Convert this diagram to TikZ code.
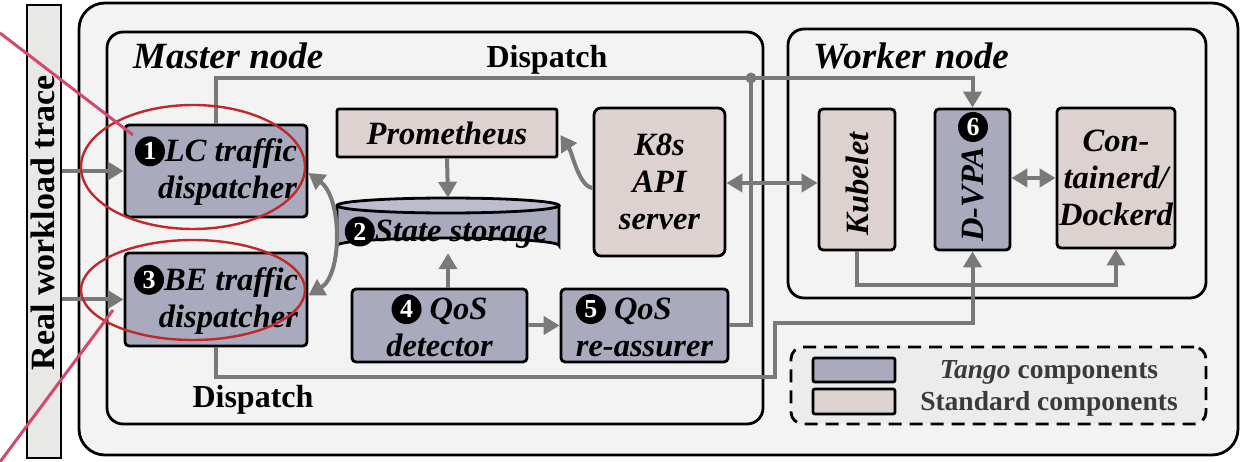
\documentclass[tikz,border=0pt]{standalone}
\usepackage{fontspec}
\setmainfont{Liberation Serif}
\usetikzlibrary{arrows.meta}

\definecolor{tangofill}{HTML}{A9AABE}
\definecolor{stdfill}{HTML}{DDD2CF}
\definecolor{lnk}{HTML}{7B7878}
\definecolor{panel}{HTML}{F3F3F3}
\definecolor{barfill}{HTML}{E8E8E6}
\definecolor{legfill}{HTML}{ECECEC}
\definecolor{ringred}{HTML}{C0282A}
\definecolor{pointer}{HTML}{D24A6B}
\definecolor{legtext}{HTML}{3A3A3A}
\definecolor{captop}{HTML}{BCBDCE}

\tikzset{
  badgestyle/.style={circle, fill=black, draw=none, text=white, inner sep=0pt,
    minimum size=30pt, font=\fontsize{26}{26}\selectfont\bfseries\upshape}
}
% black numbered disc used inline in component labels
\newcommand\badge[2]{\tikz[baseline={([yshift=-10.5pt]#2.center)}]\node[badgestyle] (#2) {#1};}
\newcommand\boxfont{\fontsize{32.5}{37}\selectfont\bfseries\itshape}

\begin{document}
\begin{tikzpicture}[x=1pt, y=-1pt,
  container/.style={draw=black, line width=2.8pt, fill=panel},
  conn/.style={draw=lnk, line width=4pt},
  arr/.style={-{Triangle[length=16pt,width=18pt]}},
  arrboth/.style={{Triangle[length=16pt,width=18pt]}-{Triangle[length=16pt,width=18pt]}},
  box/.style={draw=black, line width=2.8pt, rounded corners=4pt, inner sep=0pt,
    font=\boxfont, align=center},
  tango/.style={box, fill=tangofill},
  stdc/.style={box, fill=stdfill},
  title/.style={font=\fontsize{37}{42}\selectfont\bfseries\itshape, inner sep=0pt},
  tag/.style={font=\fontsize{32}{36}\selectfont\bfseries, inner sep=0pt},
  vtext/.style={rotate=90, font=\boxfont, inner sep=0pt},
  legtxt/.style={font=\fontsize{27.5}{32}\selectfont\bfseries, text=legtext, inner sep=0pt},
  ring/.style={draw=ringred, line width=2.4pt},
  pointerline/.style={draw=pointer, line width=3pt}
]
\useasboundingbox (0,0) rectangle (1256,462);
\fill[white] (0,0) rectangle (1256,462);

% cluster panel and the trace bar
\draw[container, rounded corners=26pt] (79,3) rectangle (1238,455);
\node[draw=black, line width=2.8pt, fill=barfill, minimum width=34pt,
  minimum height=453pt, inner sep=0pt] (bar) at (44,231.5) {};
\node[rotate=90, font=\fontsize{34}{38}\selectfont\bfseries, inner sep=0pt]
  (bartext) at (43,223) {Real workload trace};

% node panels
\draw[container, rounded corners=16pt] (107,32) rectangle (763,424);
\draw[container, rounded corners=16pt] (788,29) rectangle (1206,298);
\node[title, anchor=base west] (mtitle) at (133,69) {Master node};
\node[title, anchor=base west] (wtitle) at (813,69) {Worker node};
\node[tag, anchor=base] (disptop) at (547,68) {Dispatch};
\node[tag, anchor=base] (dispbot) at (253,407) {Dispatch};

% master components
\node[tango, minimum width=182pt, minimum height=92pt, align=right] (lc) at (216,171)
  {\badge{1}{n1}LC traffic\\dispatcher};
\node[tango, minimum width=182pt, minimum height=93pt, align=right] (be) at (216,299.5)
  {\badge{3}{n3}BE traffic\\dispatcher};
\node[stdc, rounded corners=2pt, minimum width=220pt, minimum height=48pt] (prom) at (447,133)
  {Prometheus};
\node[stdc, rounded corners=7pt, minimum width=131pt, minimum height=148pt] (k8s) at (659.5,182)
  {K8s\\API\\server};
\node[tango, minimum width=175pt, minimum height=73pt] (qd) at (439.5,325.5)
  {\badge{4}{n4} QoS\\detector};
\node[tango, minimum width=167pt, minimum height=73pt, align=left] (qr) at (644.5,325.5)
  {\badge{5}{n5} QoS\\re-assurer};

% state storage drum
\node[minimum width=222pt, minimum height=55pt, inner sep=0pt] (ss) at (448,225.5) {};
\fill[tangofill] (337,205.5) -- (337,245.5) arc[start angle=180, end angle=360,
  x radius=111, y radius=7.5] -- (559,205.5) -- cycle;
\draw[black, line width=2.8pt] (337,205.5) -- (337,245.5) arc[start angle=180,
  end angle=360, x radius=111, y radius=7.5] -- (559,205.5);
\draw[black, line width=2.8pt, fill=captop] (448,205.5) ellipse[x radius=111, y radius=7.5];
\node[font=\boxfont, anchor=base, inner sep=0pt] (sstext) at (446,242)
  {\badge{2}{n2}State storage};

% worker components
\node[stdc, minimum width=76pt, minimum height=141pt] (kubelet) at (857,179.5) {};
\node[vtext] (kubtext) at (857,184) {Kubelet};
\node[tango, minimum width=75pt, minimum height=141pt] (dvpa) at (972.5,179.5) {};
\node[badgestyle] (n6) at (973,127) {6};
\node[vtext] (dvpatext) at (973,194) {D-VPA};
\node[stdc, minimum width=118pt, minimum height=140pt] (cont) at (1116,178)
  {Con-\\tainerd/\\Dockerd};

% legend
\node[draw=black, line width=2.8pt, dash pattern=on 13pt off 8pt, rounded corners=12pt,
  fill=legfill, minimum width=415pt, minimum height=77pt] (legend) at (998.5,385.5) {};
\node[box, fill=tangofill, rounded corners=2pt, minimum width=82pt, minimum height=24pt]
  (swtango) at (854,370) {};
\node[box, fill=stdfill, rounded corners=2pt, minimum width=82pt, minimum height=25pt]
  (swstd) at (854,401.5) {};
\node[legtxt, anchor=base] (lgtango) at (1049,378) {\textit{Tango} components};
\node[legtxt, anchor=base] (lgstd) at (1049,410) {Standard components};

% connectors
\coordinate (hub) at (751,78);
\coordinate (b1) at (775,377);
\coordinate (b2) at (775,323);
\draw[conn, arr] (bar.east |- lc.west) -- (lc.west);
\draw[conn, arr] (bar.east |- be.west) -- (be.west);
\draw[conn, arr] (lc.north) |- (dvpa.north |- hub) -- (dvpa.north);
\draw[conn] (qr.east) -| (hub);
\fill[lnk] (hub) circle[radius=5.5pt];
\draw[conn, arr] (be.south) |- (b1) -- (b2) -| (dvpa.south);
\draw[conn, arrboth] ([yshift=-1pt]k8s.east) -- ([yshift=-1pt]k8s.east -| kubelet.west);
\draw[conn, arr] ([yshift=-6pt]k8s.west) .. controls ([xshift=-14pt,yshift=-4pt]k8s.west)
  and ([xshift=14pt,yshift=-20pt]prom.east) .. ([xshift=2pt,yshift=-2pt]prom.east);
\draw[conn, arr] (prom.south) -- (ss.north);
\draw[conn, arr] (ss.south |- qd.north) -- (ss.south);
\draw[conn, arr] (qd.east) -- (qr.west);
\draw[conn, arrboth] ([yshift=-2pt]lc.east) .. controls ([xshift=34pt,yshift=-27pt]lc.east)
  and ([xshift=34pt,yshift=25pt]be.east) .. ([yshift=4pt]be.east);
\draw[conn, arr] (kubelet.south) -- ++(0,34) -| (cont.south);
\draw[conn, arrboth] (dvpa.east |- cont.west) -- (cont.west);

% highlight rings and pointers
\draw[ring] (193,167) ellipse[x radius=112, y radius=62];
\draw[ring] (193,290) ellipse[x radius=112, y radius=50];
\coordinate (p1s) at (0,33);
\coordinate (p1e) at (133,135);
\coordinate (p2s) at (113,310);
\coordinate (p2e) at (0,462);
\draw[pointerline] (p1s) -- (p1e);
\draw[pointerline] (p2s) -- (p2e);
\end{tikzpicture}
\end{document}
